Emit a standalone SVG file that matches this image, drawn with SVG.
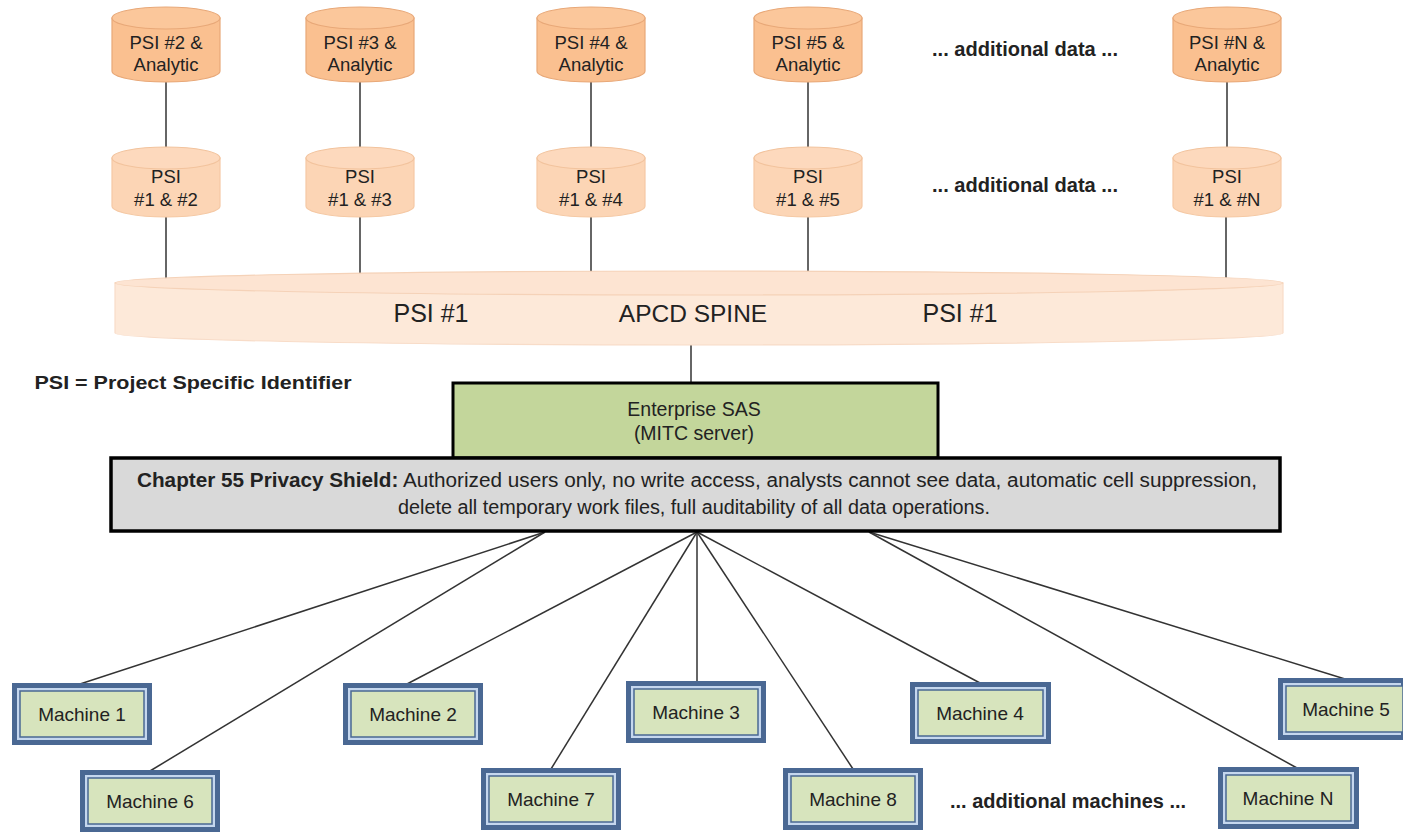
<svg xmlns="http://www.w3.org/2000/svg" width="1403" height="834" viewBox="0 0 1403 834">
<style>
text{font-family:"Liberation Sans",Arial,sans-serif;fill:#222;text-anchor:middle}
.c1 .body{fill:#fac090;stroke:#e8a878;stroke-width:1.2}
.c1 .top{fill:#fbc79b;stroke:#e8a878;stroke-width:1.2}
.c2 .body{fill:#fcd5b5;stroke:#f5c9a5;stroke-width:1.2}
.c2 .top{fill:#fdd9bd;stroke:#f2c39d;stroke-width:1.2}
.ct{font-size:18.5px}
.ln{stroke:#333;stroke-width:1.5;fill:none}
.mo{fill:#4a6893}
.mb{fill:#c5d7ee}
.mi{fill:#d7e4bd;stroke:#4a6893;stroke-width:1.5}
.mt{font-size:19px}
.bold{font-weight:bold}
</style>
<g id="connectors" class="ln">
<line x1="166" y1="80" x2="166" y2="150"/>
<line x1="360" y1="80" x2="360" y2="150"/>
<line x1="591" y1="80" x2="591" y2="150"/>
<line x1="808" y1="80" x2="808" y2="150"/>
<line x1="1227" y1="80" x2="1227" y2="150"/>
<line x1="166" y1="215" x2="166" y2="279"/>
<line x1="360" y1="215" x2="360" y2="277"/>
<line x1="591" y1="215" x2="591" y2="275"/>
<line x1="808" y1="215" x2="808" y2="275"/>
<line x1="1226" y1="215" x2="1226" y2="279"/>
<line x1="691" y1="343" x2="691" y2="383"/>
<line x1="545" y1="532" x2="80" y2="684"/>
<line x1="545" y1="532" x2="150" y2="771"/>
<line x1="697" y1="532" x2="407" y2="684"/>
<line x1="697" y1="532" x2="551" y2="769"/>
<line x1="697" y1="532" x2="697" y2="682"/>
<line x1="697" y1="532" x2="853" y2="769"/>
<line x1="697" y1="532" x2="980" y2="683"/>
<line x1="869" y1="532" x2="1345" y2="679"/>
<line x1="869" y1="532" x2="1297" y2="768"/>
</g>
<g id="psi2a" class="c1"><path class="body" d="M112,18 V71 A54,11 0 0 0 220,71 V18 Z"/><ellipse class="top" cx="166" cy="18" rx="54" ry="11"/><text class="ct" x="166" y="49">PSI #2 &amp;</text><text class="ct" x="166" y="71">Analytic</text></g>
<g id="psi3a" class="c1"><path class="body" d="M306,18 V71 A54,11 0 0 0 414,71 V18 Z"/><ellipse class="top" cx="360" cy="18" rx="54" ry="11"/><text class="ct" x="360" y="49">PSI #3 &amp;</text><text class="ct" x="360" y="71">Analytic</text></g>
<g id="psi4a" class="c1"><path class="body" d="M537,18 V71 A54,11 0 0 0 645,71 V18 Z"/><ellipse class="top" cx="591" cy="18" rx="54" ry="11"/><text class="ct" x="591" y="49">PSI #4 &amp;</text><text class="ct" x="591" y="71">Analytic</text></g>
<g id="psi5a" class="c1"><path class="body" d="M754,18 V71 A54,11 0 0 0 862,71 V18 Z"/><ellipse class="top" cx="808" cy="18" rx="54" ry="11"/><text class="ct" x="808" y="49">PSI #5 &amp;</text><text class="ct" x="808" y="71">Analytic</text></g>
<g id="psiNa" class="c1"><path class="body" d="M1173,18 V71 A54,11 0 0 0 1281,71 V18 Z"/><ellipse class="top" cx="1227" cy="18" rx="54" ry="11"/><text class="ct" x="1227" y="49">PSI #N &amp;</text><text class="ct" x="1227" y="71">Analytic</text></g>
<g id="add1"><text class="bold" x="1025" y="56" font-size="20" textLength="186" lengthAdjust="spacingAndGlyphs">... additional data ...</text></g>
<g id="psi12" class="c2"><path class="body" d="M112,158 V206 A54,11 0 0 0 220,206 V158 Z"/><ellipse class="top" cx="166" cy="158" rx="54" ry="11"/><text class="ct" x="166" y="183">PSI</text><text class="ct" x="166" y="206">#1 &amp; #2</text></g>
<g id="psi13" class="c2"><path class="body" d="M306,158 V206 A54,11 0 0 0 414,206 V158 Z"/><ellipse class="top" cx="360" cy="158" rx="54" ry="11"/><text class="ct" x="360" y="183">PSI</text><text class="ct" x="360" y="206">#1 &amp; #3</text></g>
<g id="psi14" class="c2"><path class="body" d="M537,158 V206 A54,11 0 0 0 645,206 V158 Z"/><ellipse class="top" cx="591" cy="158" rx="54" ry="11"/><text class="ct" x="591" y="183">PSI</text><text class="ct" x="591" y="206">#1 &amp; #4</text></g>
<g id="psi15" class="c2"><path class="body" d="M754,158 V206 A54,11 0 0 0 862,206 V158 Z"/><ellipse class="top" cx="808" cy="158" rx="54" ry="11"/><text class="ct" x="808" y="183">PSI</text><text class="ct" x="808" y="206">#1 &amp; #5</text></g>
<g id="psi1N" class="c2"><path class="body" d="M1173,158 V206 A54,11 0 0 0 1281,206 V158 Z"/><ellipse class="top" cx="1227" cy="158" rx="54" ry="11"/><text class="ct" x="1227" y="183">PSI</text><text class="ct" x="1227" y="206">#1 &amp; #N</text></g>
<g id="add2"><text class="bold" x="1025" y="192" font-size="20" textLength="186" lengthAdjust="spacingAndGlyphs">... additional data ...</text></g>
<g id="spine">
<path d="M115,283 V333 A584,12 0 0 0 1283,333 V283 Z" fill="#fde9d9" stroke="#f8dcc8" stroke-width="1.2"/>
<ellipse cx="699" cy="283" rx="584" ry="12" fill="#fde4d2" stroke="#f5d2b8" stroke-width="1.2"/>
<text x="431" y="322" font-size="25">PSI #1</text>
<text x="693" y="322" font-size="24.5">APCD SPINE</text>
<text x="960" y="322" font-size="25">PSI #1</text>
</g>
<g id="legend"><text class="bold" x="193" y="389" font-size="19" textLength="317" lengthAdjust="spacingAndGlyphs">PSI = Project Specific Identifier</text></g>
<g id="sas">
<rect x="453" y="383" width="485" height="75" fill="#c3d69b" stroke="#000" stroke-width="3"/>
<text x="694" y="416" font-size="19.5">Enterprise SAS</text>
<text x="694" y="440" font-size="19.5">(MITC server)</text>
</g>
<g id="shield">
<rect x="111" y="458" width="1169" height="73" fill="#d9d9d9" stroke="#000" stroke-width="3.5"/>
<text x="697" y="487" font-size="19.5" textLength="1120" lengthAdjust="spacingAndGlyphs"><tspan class="bold">Chapter 55 Privacy Shield:</tspan> Authorized users only, no write access, analysts cannot see data, automatic cell  suppression,</text>
<text x="694" y="514" font-size="19.5" textLength="592" lengthAdjust="spacingAndGlyphs">delete all temporary work files, full auditability of all data operations.</text>
</g>
<g id="m1"><rect class="mo" x="12" y="683" width="140" height="62"/><rect class="mb" x="17" y="688" width="130" height="52"/><rect class="mi" x="20" y="691" width="124" height="46"/><text class="mt" x="82" y="721">Machine 1</text></g>
<g id="m2"><rect class="mo" x="343" y="683" width="140" height="62"/><rect class="mb" x="348" y="688" width="130" height="52"/><rect class="mi" x="351" y="691" width="124" height="46"/><text class="mt" x="413" y="721">Machine 2</text></g>
<g id="m3"><rect class="mo" x="626" y="681" width="140" height="62"/><rect class="mb" x="631" y="686" width="130" height="52"/><rect class="mi" x="634" y="689" width="124" height="46"/><text class="mt" x="696" y="719">Machine 3</text></g>
<g id="m4"><rect class="mo" x="910" y="682" width="141" height="62"/><rect class="mb" x="915" y="687" width="131" height="52"/><rect class="mi" x="918" y="690" width="125" height="46"/><text class="mt" x="980" y="720">Machine 4</text></g>
<g id="m5"><rect class="mo" x="1278" y="678" width="125" height="62"/><rect class="mb" x="1283" y="683" width="118" height="52"/><rect class="mi" x="1286" y="686" width="117" height="46"/><text class="mt" x="1346" y="716">Machine 5</text></g>
<g id="m6"><rect class="mo" x="80" y="770" width="140" height="62"/><rect class="mb" x="85" y="775" width="130" height="52"/><rect class="mi" x="88" y="778" width="124" height="46"/><text class="mt" x="150" y="808">Machine 6</text></g>
<g id="m7"><rect class="mo" x="481" y="768" width="140" height="62"/><rect class="mb" x="486" y="773" width="130" height="52"/><rect class="mi" x="489" y="776" width="124" height="46"/><text class="mt" x="551" y="806">Machine 7</text></g>
<g id="m8"><rect class="mo" x="783" y="768" width="140" height="62"/><rect class="mb" x="788" y="773" width="130" height="52"/><rect class="mi" x="791" y="776" width="124" height="46"/><text class="mt" x="853" y="806">Machine 8</text></g>
<g id="addm"><text class="bold" x="1068" y="808" font-size="20" textLength="236" lengthAdjust="spacingAndGlyphs">... additional machines ...</text></g>
<g id="mN"><rect class="mo" x="1218" y="767" width="141" height="62"/><rect class="mb" x="1223" y="772" width="131" height="52"/><rect class="mi" x="1226" y="775" width="125" height="46"/><text class="mt" x="1288" y="805">Machine N</text></g>
</svg>
